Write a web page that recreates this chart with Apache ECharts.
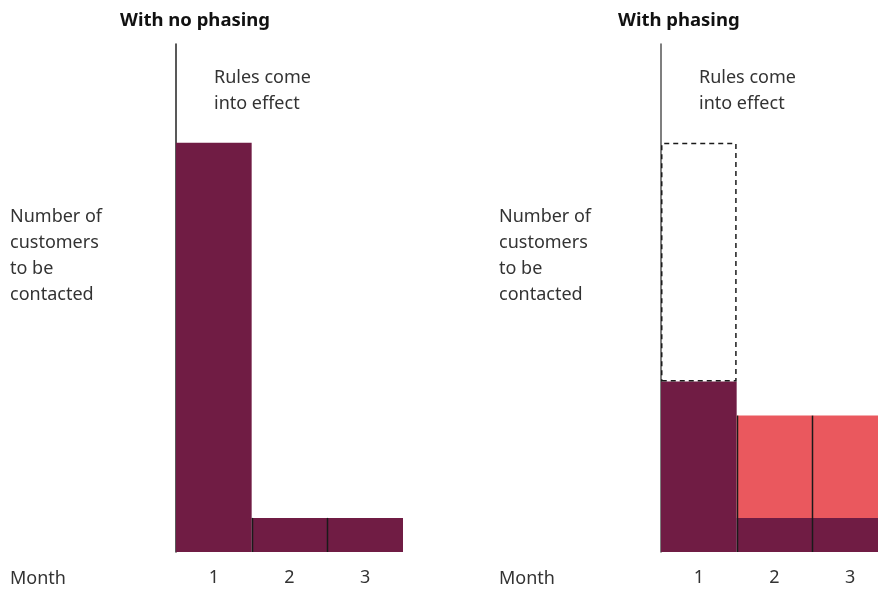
<!DOCTYPE html>
<html>
<head>
<meta charset="utf-8">
<script src="https://cdn.jsdelivr.net/npm/echarts@6/dist/echarts.min.js"></script>
<style>
  html, body { margin: 0; padding: 0; background: #fff; }
  #chart { width: 878px; height: 590px; }
</style>
</head>
<body>
<div id="chart"></div>
<script>
// data (units = customers, arbitrary scale)
var months = ['1', '2', '3'];
var noPhasing = [12, 1, 1];
var phasedBase = [5, 1, 1];
var phasedExtra = [0, 3, 3];
var deferred = [7, 0, 0];   // dashed outline on top of month 1
var yMax = 14.9;

var maroon = '#701c44';
var coral = '#ea585e';
var font = '"Noto Sans", Lato, sans-serif';

function totals(a, b) {
    var out = [];
    for (var i = 0; i < a.length; i++) {
        out.push([i, a[i] + (b ? b[i] : 0)]);
    }
    return out;
}
function noZero(a) {
    return a.map(function(v) { return v === 0 ? '-' : v; });
}

// thin dark line at the left edge of each bar after the first
function sepItem(params, api) {
    var i = api.value(0);
    if (i === 0) return;
    var w = api.size([1, 0])[0];
    var p0 = api.coord([i, 0]);
    var p1 = api.coord([i, api.value(1)]);
    var x = Math.round(p0[0] - w / 2) + 0.5;
    return {
        type: 'line',
        shape: { x1: x, y1: p0[1], x2: x, y2: p1[1] },
        style: { stroke: '#1a1a1a', lineWidth: 1.5 },
        z2: 10
    };
}

function xAx(idx) {
    return {
        type: 'category', gridIndex: idx, data: months,
        axisLine: { show: false }, axisTick: { show: false },
        axisLabel: { color: '#333', fontSize: 18, fontFamily: font, margin: 17 }
    };
}
function yAx(idx, col) {
    return {
        type: 'value', gridIndex: idx, min: 0, max: yMax,
        axisLine: { show: true, lineStyle: { color: col, width: 1.5 } },
        axisTick: { show: false }, axisLabel: { show: false },
        splitLine: { show: false }
    };
}

function txt(x, y, s, opts) {
    opts = opts || {};
    return {
        type: 'text', left: x, top: y,
        style: {
            text: s, fill: opts.fill || '#333', fontSize: opts.size || 18,
            fontFamily: font, fontWeight: opts.weight || 'normal',
            lineHeight: 26
        }
    };
}

var chart = echarts.init(document.getElementById('chart'));
var option = {
    animation: false,
    grid: [
        { left: 176, top: 44, width: 227, height: 508, outerBoundsMode: 'none' },
        { left: 661, top: 44, width: 227, height: 508, outerBoundsMode: 'none' }
    ],
    xAxis: [xAx(0), xAx(1)],
    yAxis: [yAx(0, '#222'), yAx(1, '#555')],
    graphic: [
        txt(120, 8, 'With no phasing', { weight: 'bold', fill: '#111', size: 18.5 }),
        txt(618, 8, 'With phasing', { weight: 'bold', fill: '#111', size: 18.5 }),
        txt(214, 65, 'Rules come\ninto effect'),
        txt(699, 65, 'Rules come\ninto effect'),
        txt(10, 204, 'Number of\ncustomers\nto be\ncontacted'),
        txt(499, 204, 'Number of\ncustomers\nto be\ncontacted'),
        txt(10, 566, 'Month'),
        txt(499, 566, 'Month')
    ],
    series: [
        {
            type: 'bar', xAxisIndex: 0, yAxisIndex: 0,
            data: noPhasing, barCategoryGap: '0%',
            itemStyle: { color: maroon }
        },
        {
            type: 'custom', xAxisIndex: 0, yAxisIndex: 0,
            data: totals(noPhasing), renderItem: sepItem, z: 5
        },
        {
            type: 'bar', xAxisIndex: 1, yAxisIndex: 1, stack: 'p',
            data: phasedBase, barCategoryGap: '0%',
            itemStyle: { color: maroon }
        },
        {
            type: 'bar', xAxisIndex: 1, yAxisIndex: 1, stack: 'p',
            data: noZero(phasedExtra), barCategoryGap: '0%',
            itemStyle: { color: coral }
        },
        {
            type: 'bar', xAxisIndex: 1, yAxisIndex: 1, stack: 'p',
            data: noZero(deferred), barCategoryGap: '0%',
            itemStyle: {
                color: 'rgba(0,0,0,0)', borderColor: '#1a1a1a',
                borderWidth: 1.5, borderType: [5, 4]
            }
        },
        {
            type: 'custom', xAxisIndex: 1, yAxisIndex: 1,
            data: totals(phasedBase, phasedExtra), renderItem: sepItem, z: 5
        }
    ]
};
chart.setOption(option);
</script>
</body>
</html>
